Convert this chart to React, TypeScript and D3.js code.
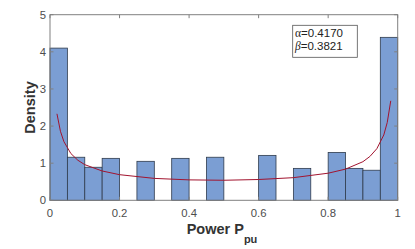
import React, { useEffect, useRef } from 'react';
import * as d3 from 'd3';

// histogram bins (width 0.05) and density heights
const binStarts = [0, 0.05, 0.1, 0.15, 0.2, 0.25, 0.3, 0.35, 0.4, 0.45, 0.5, 0.55, 0.6, 0.65, 0.7, 0.75, 0.8, 0.85, 0.9, 0.95];
const binDensity = [4.1, 1.16, 0.89, 1.13, 0, 1.05, 0, 1.13, 0, 1.16, 0, 0, 1.21, 0, 0.86, 0, 1.29, 0.86, 0.81, 4.39];
const binWidth = 0.05;

// fitted beta pdf curve
const curveX = [0.02, 0.03, 0.04, 0.06, 0.08, 0.1, 0.15, 0.2, 0.3, 0.4, 0.5, 0.6, 0.7, 0.8, 0.85, 0.9, 0.92, 0.94, 0.96, 0.97, 0.98];
const curveY = [2.33, 1.86, 1.58, 1.26, 1.08, 0.96, 0.79, 0.69, 0.59, 0.55, 0.54, 0.56, 0.61, 0.73, 0.84, 1.04, 1.18, 1.39, 1.76, 2.1, 2.68];

const xTicks = [0, 0.2, 0.4, 0.6, 0.8, 1];
const yTicks = [0, 1, 2, 3, 4, 5];
const fitSymbols = ['α', 'β'];
const fitValues = ['=0.4170', '=0.3821'];

function App() {
  const ref = useRef<SVGSVGElement>(null);

  useEffect(() => {
    const width = 415;
    const height = 249;
    const margin = { top: 14.7, right: 17.3, bottom: 48.7, left: 50 };
    const font = 'Liberation Sans, Arial, Helvetica, sans-serif';

    const svg = d3.select(ref.current);
    svg.selectAll('*').remove();

    const x = d3.scaleLinear().domain([0, 1]).range([margin.left, width - margin.right]);
    const y = d3.scaleLinear().domain([0, 5]).range([height - margin.bottom, margin.top]);

    const bars = binStarts.map((s, i) => ({ s, v: binDensity[i] })).filter(d => d.v > 0);

    /* ------- BARS -------*/
    svg.append('g')
      .selectAll('rect')
      .data(bars)
      .enter()
      .append('rect')
      .attr('x', d => x(d.s))
      .attr('y', d => y(d.v))
      .attr('width', d => x(d.s + binWidth) - x(d.s))
      .attr('height', d => y(0) - y(d.v))
      .attr('fill', '#7b9ed3')
      .attr('stroke', '#2f3b4c')
      .attr('stroke-width', 0.8);

    /* ------- FIT CURVE -------*/
    const line = d3.line<number>()
      .x((d, i) => x(curveX[i]))
      .y(d => y(d));
    svg.append('path')
      .attr('d', line(curveY))
      .attr('fill', 'none')
      .attr('stroke', '#a2142f')
      .attr('stroke-width', 1);

    /* ------- AXES BOX -------*/
    const x0 = x(0), x1 = x(1), y0 = y(0), y1 = y(5);
    const axisColor = '#808080';
    const box = svg.append('g').attr('stroke', axisColor).attr('stroke-width', 1).attr('fill', 'none');
    box.append('rect').attr('x', x0).attr('y', y1).attr('width', x1 - x0).attr('height', y0 - y1);

    const tl = 3.5;
    xTicks.forEach(t => {
      box.append('line').attr('x1', x(t)).attr('x2', x(t)).attr('y1', y0).attr('y2', y0 - tl);
      box.append('line').attr('x1', x(t)).attr('x2', x(t)).attr('y1', y1).attr('y2', y1 + tl);
    });
    yTicks.forEach(t => {
      box.append('line').attr('x1', x0).attr('x2', x0 + tl).attr('y1', y(t)).attr('y2', y(t));
      box.append('line').attr('x1', x1).attr('x2', x1 - tl).attr('y1', y(t)).attr('y2', y(t));
    });

    svg.append('g')
      .selectAll('text')
      .data(xTicks)
      .enter()
      .append('text')
      .attr('x', d => x(d))
      .attr('y', y0 + 16.5)
      .attr('text-anchor', 'middle')
      .style('font-family', font)
      .style('font-size', '11.3px')
      .style('fill', '#4d4d4d')
      .text(d => d3.format('')(d));

    svg.append('g')
      .selectAll('text')
      .data(yTicks)
      .enter()
      .append('text')
      .attr('x', x0 - 4)
      .attr('y', d => y(d) + 4)
      .attr('text-anchor', 'end')
      .style('font-family', font)
      .style('font-size', '11.3px')
      .style('fill', '#4d4d4d')
      .text(d => d);

    /* ------- AXIS LABELS -------*/
    svg.append('text')
      .attr('transform', `translate(35,${(y0 + y1) / 2}) rotate(-90)`)
      .attr('text-anchor', 'middle')
      .style('font-family', font)
      .style('font-size', '14.5px')
      .style('font-weight', 'bold')
      .style('fill', '#333')
      .text('Density');

    const xl = svg.append('text')
      .attr('x', 222)
      .attr('y', 234)
      .attr('text-anchor', 'middle')
      .style('font-family', font)
      .style('font-size', '14.5px')
      .style('font-weight', 'bold')
      .style('fill', '#333');
    xl.append('tspan').text('Power P');
    xl.append('tspan').attr('dy', 9).style('font-size', '11px').text('pu');

    /* ------- PARAMETER BOX -------*/
    svg.append('rect')
      .attr('x', 292.7)
      .attr('y', 25.3)
      .attr('width', 64.6)
      .attr('height', 32)
      .attr('fill', 'white')
      .attr('stroke', '#555')
      .attr('stroke-width', 0.8);

    const labels = svg.append('g')
      .selectAll('text')
      .data(fitValues)
      .enter()
      .append('text')
      .attr('x', 295)
      .attr('y', (d, i) => 37 + i * 12.5)
      .style('font-family', font)
      .style('font-size', '11.5px')
      .style('fill', '#222');
    labels.append('tspan')
      .style('font-family', 'Liberation Serif, Times New Roman, serif')
      .style('font-style', (d, i) => (i === 1 ? 'italic' : 'normal'))
      .text((d, i) => fitSymbols[i]);
    labels.append('tspan').text(d => d);
  }, []);

  return (
    <svg ref={ref} width={415} height={249} style={{ position: 'absolute', left: 0, top: 0 }} />
  );
}

export default App;
